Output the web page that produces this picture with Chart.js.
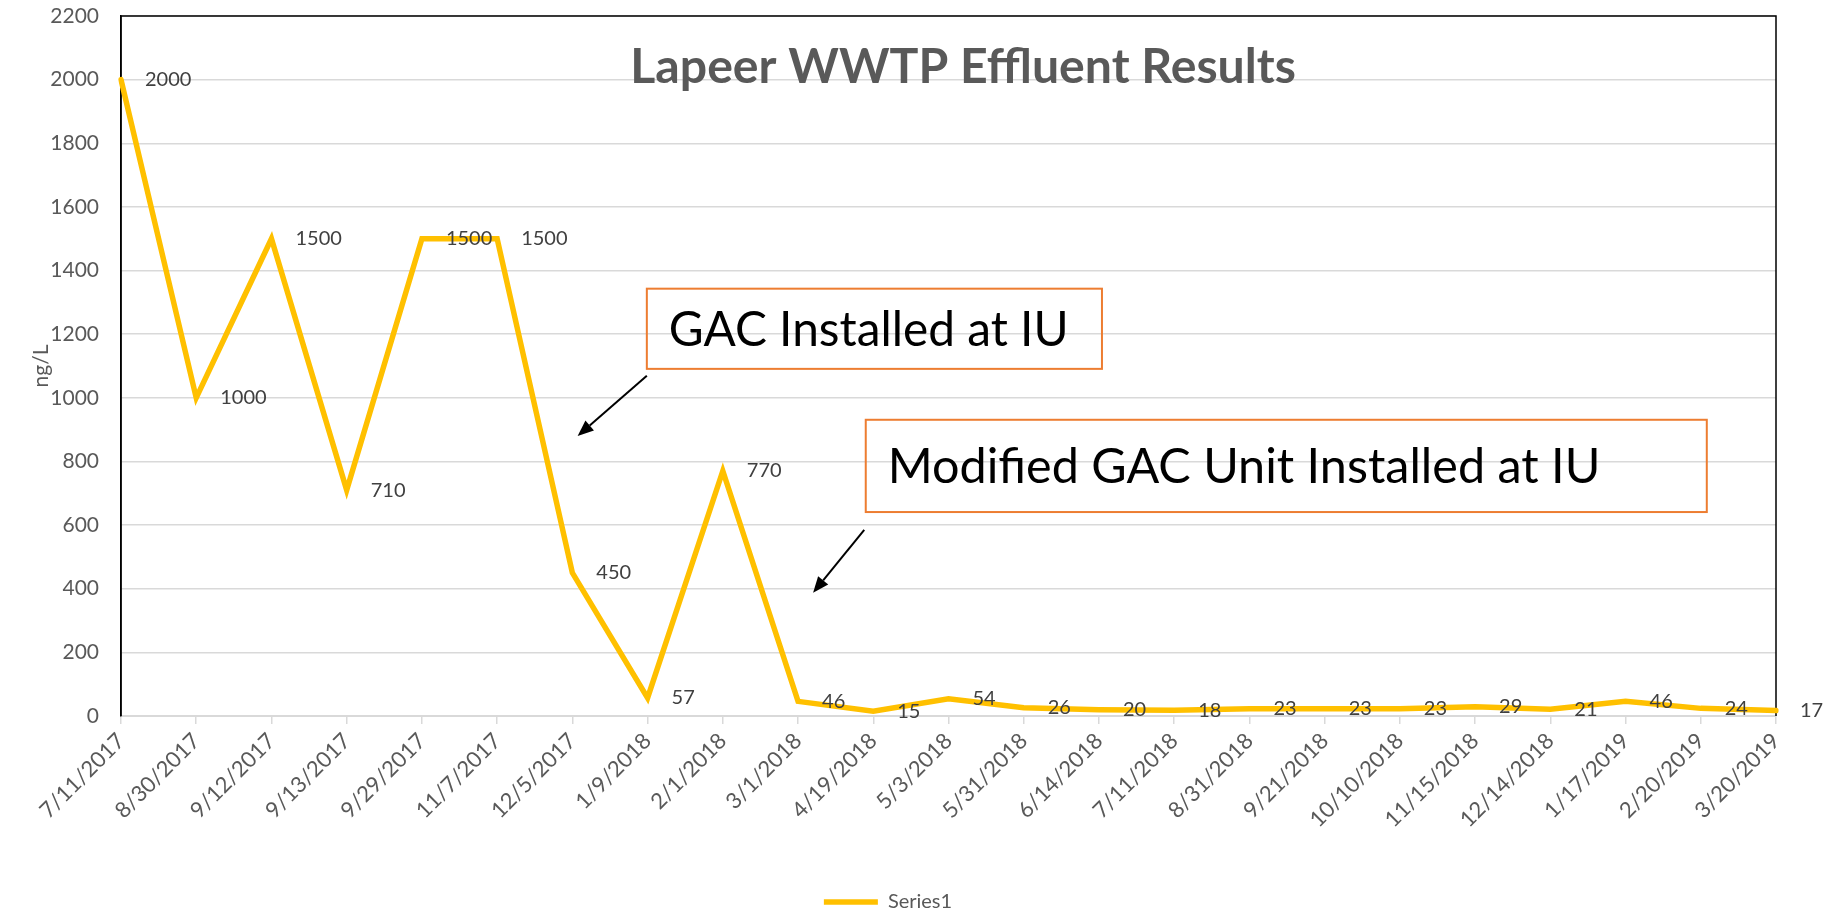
<!DOCTYPE html>
<html>
<head>
<meta charset="utf-8">
<title>Lapeer WWTP Effluent Results</title>
<script src="https://cdn.jsdelivr.net/npm/chart.js@4.4.1/dist/chart.umd.min.js"></script>
<style>
  html, body { margin: 0; padding: 0; background: #fff; }
</style>
</head>
<body>
<canvas id="effluentChart" width="1826" height="912"></canvas>
<script>
// Data
var sampleDates = ['7/11/2017', '8/30/2017', '9/12/2017', '9/13/2017', '9/29/2017', '11/7/2017',
  '12/5/2017', '1/9/2018', '2/1/2018', '3/1/2018', '4/19/2018', '5/3/2018', '5/31/2018',
  '6/14/2018', '7/11/2018', '8/31/2018', '9/21/2018', '10/10/2018', '11/15/2018',
  '12/14/2018', '1/17/2019', '2/20/2019', '3/20/2019'];
var effluentValues = [2000, 1000, 1500, 710, 1500, 1500, 450, 57, 770, 46, 15, 54, 26,
  20, 18, 23, 23, 23, 29, 21, 46, 24, 17];
var yTickValues = [0, 200, 400, 600, 800, 1000, 1200, 1400, 1600, 1800, 2000, 2200];
var chartTitle = 'Lapeer WWTP Effluent Results';
var seriesName = 'Series1';
var yAxisTitle = 'ng/L';
var noteTexts = ['GAC Installed at IU', 'Modified GAC Unit Installed at IU'];

// Where the notes sit, in axis units (category index, ng/L)
var notePlacement = [
  { box: [6.99, 13.04, 1343, 1091], textWidth: 400, from: [6.99, 1069], to: [6.07, 880] },
  { box: [9.90, 21.08, 931, 641], textWidth: 713, from: [9.88, 585], to: [9.20, 387] }
];

var fontFamily = 'Lato, "Open Sans", sans-serif';
var PAD_BOTTOM = -10;

// font size that makes the text as wide as in the original
function fitFont(ctx, text, weight, width) {
  ctx.font = weight + ' 100px ' + fontFamily;
  var size = 100 * width / ctx.measureText(text).width;
  return { css: weight + ' ' + size.toFixed(1) + 'px ' + fontFamily, size: size };
}

function drawArrow(ctx, x1, y1, x2, y2) {
  var ang = Math.atan2(y2 - y1, x2 - x1);
  var len = 16, half = 6.5;
  var bx = x2 - Math.cos(ang) * len, by = y2 - Math.sin(ang) * len;
  ctx.beginPath();
  ctx.moveTo(x1, y1);
  ctx.lineTo(bx, by);
  ctx.stroke();
  ctx.beginPath();
  ctx.moveTo(x2, y2);
  ctx.lineTo(bx + Math.sin(ang) * half, by - Math.cos(ang) * half);
  ctx.lineTo(bx - Math.sin(ang) * half, by + Math.cos(ang) * half);
  ctx.closePath();
  ctx.fill();
}

var decorPlugin = {
  id: 'decor',
  beforeDatasetsDraw: function (chart) {
    var a = chart.chartArea, ctx = chart.ctx;
    ctx.save();
    // plot area frame
    ctx.strokeStyle = '#000';
    ctx.lineWidth = 1.5;
    ctx.beginPath();
    ctx.moveTo(a.left, a.bottom);
    ctx.lineTo(a.left, a.top);
    ctx.lineTo(a.right, a.top);
    ctx.lineTo(a.right, a.bottom);
    ctx.stroke();
    // title inside the plot
    var f = fitFont(ctx, chartTitle, 'bold', 666);
    ctx.font = f.css;
    ctx.fillStyle = '#595959';
    ctx.textAlign = 'center';
    ctx.textBaseline = 'alphabetic';
    ctx.fillText(chartTitle, a.left + a.width * 0.5088, a.top + 67);
    ctx.restore();
  },
  afterDatasetsDraw: function (chart) {
    var ctx = chart.ctx;
    var xs = chart.scales.x, ys = chart.scales.y;
    ctx.save();
    // value labels to the right of each point
    ctx.font = '20px ' + fontFamily;
    ctx.fillStyle = '#404040';
    ctx.textAlign = 'left';
    ctx.textBaseline = 'middle';
    chart.getDatasetMeta(0).data.forEach(function (pt, i) {
      ctx.fillText(String(effluentValues[i]), pt.x + 24, pt.y);
    });
    // notes with arrows
    notePlacement.forEach(function (n, i) {
      var l = xs.getPixelForValue(n.box[0]), r = xs.getPixelForValue(n.box[1]);
      var t = ys.getPixelForValue(n.box[2]), b = ys.getPixelForValue(n.box[3]);
      ctx.strokeStyle = '#ED7D31';
      ctx.lineWidth = 2;
      ctx.strokeRect(l, t, r - l, b - t);
      var f = fitFont(ctx, noteTexts[i], 'normal', n.textWidth);
      ctx.font = f.css;
      ctx.fillStyle = '#000';
      ctx.textAlign = 'left';
      ctx.textBaseline = 'alphabetic';
      ctx.fillText(noteTexts[i], l + 22, (t + b) / 2 + f.size * 0.36);
      ctx.strokeStyle = '#000';
      ctx.lineWidth = 2;
      drawArrow(ctx,
        xs.getPixelForValue(n.from[0]), ys.getPixelForValue(n.from[1]),
        xs.getPixelForValue(n.to[0]), ys.getPixelForValue(n.to[1]));
    });
    ctx.restore();
  }
};

var ctx = document.getElementById('effluentChart').getContext('2d');
var effluentChart = new Chart(ctx, {
  type: 'line',
  data: {
    labels: sampleDates,
    datasets: [{
      label: seriesName,
      data: effluentValues,
      borderColor: '#FFC000',
      backgroundColor: '#FFC000',
      borderWidth: 5.5,
      borderCapStyle: 'round',
      pointRadius: 0,
      pointHoverRadius: 0,
      tension: 0,
      fill: false
    }]
  },
  options: {
    responsive: false,
    animation: false,
    devicePixelRatio: 1,
    layout: { padding: { top: 16, right: 50, left: 0, bottom: PAD_BOTTOM } },
    plugins: {
      tooltip: { enabled: false },
      legend: {
        position: 'bottom',
        labels: {
          usePointStyle: true,
          pointStyle: 'line',
          pointStyleWidth: 54,
          padding: 0,
          color: '#595959',
          font: { family: fontFamily, size: 20 }
        }
      }
    },
    scales: {
      x: {
        offset: false,
        grid: { drawOnChartArea: false, drawTicks: true, tickLength: 8, color: '#D9D9D9', lineWidth: 1.5 },
        border: { color: '#D9D9D9', width: 2 },
        ticks: {
          autoSkip: false,
          minRotation: 45,
          maxRotation: 45,
          padding: 4,
          color: '#595959',
          font: { family: fontFamily, size: 22 }
        },
        afterFit: function (scale) {
          var legendH = scale.chart.legend ? scale.chart.legend.height : 0;
          scale.height = 912 - PAD_BOTTOM - 716 - legendH;
        }
      },
      y: {
        min: yTickValues[0],
        max: yTickValues[yTickValues.length - 1],
        ticks: {
          stepSize: yTickValues[1] - yTickValues[0],
          padding: 0,
          color: '#595959',
          font: { family: fontFamily, size: 21 },
          callback: function (v) { return String(v); }
        },
        grid: { color: '#D9D9D9', lineWidth: 1.5, drawTicks: true, tickLength: 22, tickColor: 'rgba(0,0,0,0)' },
        border: { color: '#000', width: 1.5 },
        title: {
          display: true,
          text: yAxisTitle,
          color: '#595959',
          font: { family: fontFamily, size: 21 },
          padding: { top: 29, bottom: 0 }
        },
        afterFit: function (scale) { scale.width = 121; }
      }
    }
  },
  plugins: [decorPlugin]
});
</script>
</body>
</html>
